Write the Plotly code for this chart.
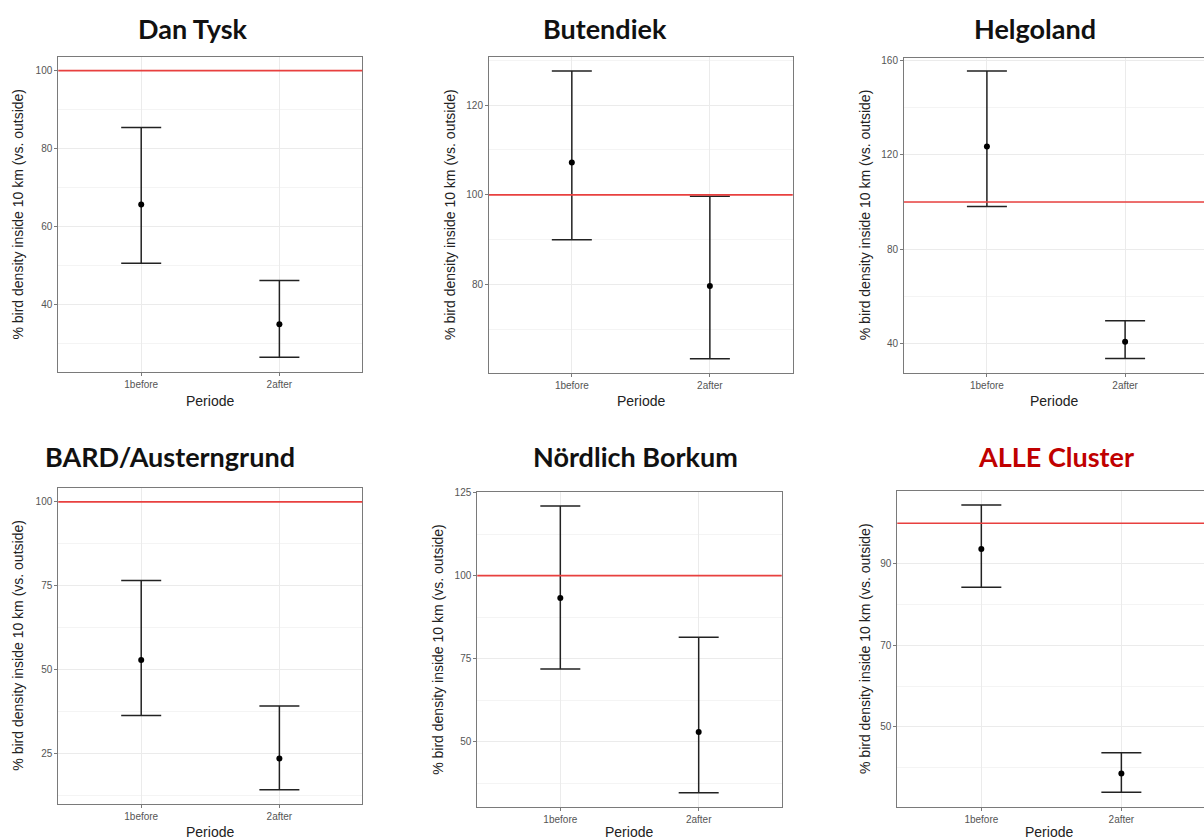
import plotly.graph_objects as go

W, H = 1204, 840

periods = ["1before", "2after"]
sites = ["Dan Tysk", "Butendiek", "Helgoland", "BARD/Austerngrund", "Nördlich Borkum", "ALLE Cluster"]

dan_tysk_mean = [65.7, 35.0]
dan_tysk_upper = [85.4, 46.2]
dan_tysk_lower = [50.6, 26.5]

butendiek_mean = [107.2, 79.7]
butendiek_upper = [127.6, 99.7]
butendiek_lower = [90.0, 63.5]

helgoland_mean = [123.5, 40.8]
helgoland_upper = [155.5, 49.7]
helgoland_lower = [98.1, 33.8]

bard_mean = [52.9, 23.5]
bard_upper = [76.6, 39.2]
bard_lower = [36.3, 14.2]

borkum_mean = [93.3, 53.0]
borkum_upper = [120.9, 81.5]
borkum_lower = [71.9, 34.7]

alle_mean = [93.7, 38.5]
alle_upper = [104.5, 43.6]
alle_lower = [84.3, 33.9]

reference_line = 100

y_ticks = [
    [40, 60, 80, 100],
    [80, 100, 120],
    [40, 80, 120, 160],
    [25, 50, 75, 100],
    [50, 75, 100, 125],
    [50, 70, 90],
]
y_minor = [
    [30, 50, 70, 90],
    [70, 90, 110, 130],
    [60, 100, 140],
    [12.5, 37.5, 62.5, 87.5],
    [37.5, 62.5, 87.5, 112.5],
    [40, 60, 80, 100],
]

means = [dan_tysk_mean, butendiek_mean, helgoland_mean, bard_mean, borkum_mean, alle_mean]
uppers = [dan_tysk_upper, butendiek_upper, helgoland_upper, bard_upper, borkum_upper, alle_upper]
lowers = [dan_tysk_lower, butendiek_lower, helgoland_lower, bard_lower, borkum_lower, alle_lower]

# layout (pixel boxes: left, right, top, bottom)
boxes = [
    (58.3, 362.3, 52.3, 369.3),
    (489.0, 792.7, 52.3, 370.0),
    (904.0, 1204.0, 53.0, 370.0),
    (58.3, 362.3, 485.7, 803.3),
    (477.3, 781.7, 490.0, 807.3),
    (897.3, 1204.0, 489.0, 806.7),
]
y_ranges = [
    [22.7, 103.5],
    [60.4, 130.7],
    [27.7, 161.1],
    [10.1, 104.2],
    [30.3, 125.1],
    [30.3, 107.9],
]
x_ranges = [
    [-0.6, 1.6], [-0.6, 1.6], [-0.6, 1.571],
    [-0.6, 1.6], [-0.6, 1.6], [-0.6, 1.59],
]
title_pos = [(193, 24), (605, 24), (1035, 24), (170, 454), (635, 454), (1056, 454)]
title_colors = ["#111111"] * 5 + ["#c00000"]
ytitle_x = [18, 450, 865, 18, 438, 865]
xtitle_y = [398, 398, 398, 832, 832, 832]

fig = go.Figure()
annotations = []
shapes = []

for i in range(6):
    ax = "" if i == 0 else str(i + 1)
    m = means[i]
    up = [u - v for u, v in zip(uppers[i], m)]
    lo = [v - l for l, v in zip(lowers[i], m)]
    fig.add_trace(go.Scatter(
        x=periods, y=m, mode="markers",
        marker=dict(color="black", size=6),
        error_y=dict(type="data", symmetric=False, array=up, arrayminus=lo,
                     color="#222222", thickness=1.5, width=20),
        xaxis="x" + ax, yaxis="y" + ax, showlegend=False,
    ))
    l, r, t, b = boxes[i]
    last_col = i in (2, 5)
    xaxis = dict(
        domain=[l / W, r / W], anchor="y" + ax, type="category",
        range=x_ranges[i], showgrid=True, gridcolor="#ebebeb", gridwidth=1,
        showline=True, mirror=True, linecolor="#7a7a7a", linewidth=1,
        ticks="outside", ticklen=3, tickcolor="#7a7a7a",
        tickfont=dict(family="Liberation Sans, Arial", size=10, color="#555555"),
        zeroline=False, fixedrange=True,
    )
    yaxis = dict(
        domain=[1 - b / H, 1 - t / H], anchor="x" + ax,
        range=y_ranges[i], tickmode="array", tickvals=y_ticks[i],
        showgrid=True, gridcolor="#ebebeb", gridwidth=1,
        minor=dict(tickmode="array", tickvals=y_minor[i], showgrid=True,
                   gridcolor="#f4f4f4", gridwidth=1, ticks=""),
        showline=True, mirror=(not last_col), linecolor="#7a7a7a", linewidth=1,
        ticks="outside", ticklen=3, tickcolor="#7a7a7a",
        tickfont=dict(family="Liberation Sans, Arial", size=10, color="#555555"),
        zeroline=False, fixedrange=True,
    )
    fig.update_layout(**{"xaxis" + ax: xaxis, "yaxis" + ax: yaxis})
    shapes.append(dict(type="line", xref="x" + ax + " domain", yref="y" + ax,
                       x0=0, x1=1, y0=reference_line, y1=reference_line,
                       line=dict(color="#e8403f", width=1.6), layer="above"))
    tx, ty = title_pos[i]
    annotations.append(dict(text="<b>" + sites[i] + "</b>", x=tx / W, y=1 - ty / H,
                            xref="paper", yref="paper", showarrow=False,
                            xanchor="center", yanchor="middle",
                            font=dict(family="Lato, Open Sans", size=27, color=title_colors[i])))
    annotations.append(dict(text="% bird density inside 10 km (vs. outside)",
                            x=ytitle_x[i] / W, y=1 - ((t + b) / 2) / H,
                            xref="paper", yref="paper", showarrow=False, textangle=-90,
                            xanchor="center", yanchor="middle",
                            font=dict(family="Liberation Sans, Arial", size=14, color="#222222")))
    cx = (l + min(r, l + 304)) / 2
    annotations.append(dict(text="Periode", x=cx / W, y=1 - xtitle_y[i] / H,
                            xref="paper", yref="paper", showarrow=False,
                            xanchor="center", yanchor="middle",
                            font=dict(family="Liberation Sans, Arial", size=14, color="#222222")))

fig.update_layout(
    width=W, height=H, margin=dict(l=0, r=0, t=0, b=0),
    paper_bgcolor="white", plot_bgcolor="white",
    annotations=annotations, shapes=shapes, showlegend=False,
)

fig.write_html("out.html", config={"displayModeBar": False})
